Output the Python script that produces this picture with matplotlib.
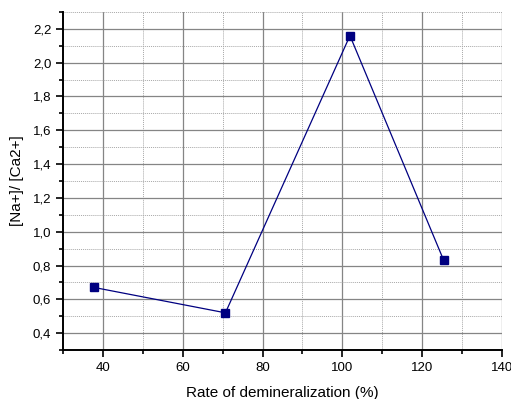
import matplotlib.pyplot as plt
from matplotlib.ticker import MultipleLocator, FuncFormatter

plt.rcParams['font.family'] = ['Liberation Sans', 'DejaVu Sans']

demin_rate = [37.8, 70.7, 101.9, 125.4]
na_ca_ratio = [0.67, 0.52, 2.16, 0.83]

fig = plt.figure(figsize=(5.11, 3.99), dpi=100)
ax = fig.add_axes([63 / 511, 49 / 399, 439 / 511, 338 / 399])

ax.plot(demin_rate, na_ca_ratio, color='#000080', lw=0.9, marker='s',
        markersize=6, markerfacecolor='#000080', markeredgecolor='#000080',
        zorder=3)

ax.set_xlim(30, 140)
ax.set_ylim(0.3, 2.3)
ax.xaxis.set_major_locator(MultipleLocator(20))
ax.xaxis.set_minor_locator(MultipleLocator(10))
ax.yaxis.set_major_locator(MultipleLocator(0.2))
ax.yaxis.set_minor_locator(MultipleLocator(0.1))
ax.yaxis.set_major_formatter(FuncFormatter(lambda v, p: f'{v:.1f}'.replace('.', ',')))

ax.grid(which='major', color='#858585', lw=0.9, ls='-')
ax.grid(which='minor', color='#a8a8a8', lw=0.7, ls=(0, (1, 1)))
ax.set_axisbelow(True)

for side in ['top', 'right']:
    ax.spines[side].set_visible(False)
for side in ['left', 'bottom']:
    ax.spines[side].set_linewidth(1.4)

ax.tick_params(which='major', direction='out', length=5, width=1.2, labelsize=9.5)
ax.tick_params(which='minor', direction='out', length=3, width=1.2)

ax.set_xlabel('Rate of demineralization (%)', fontsize=11, labelpad=9)
ax.set_ylabel('[Na+]/ [Ca2+]', fontsize=11, labelpad=6)

fig.savefig('out.png', dpi=100)
